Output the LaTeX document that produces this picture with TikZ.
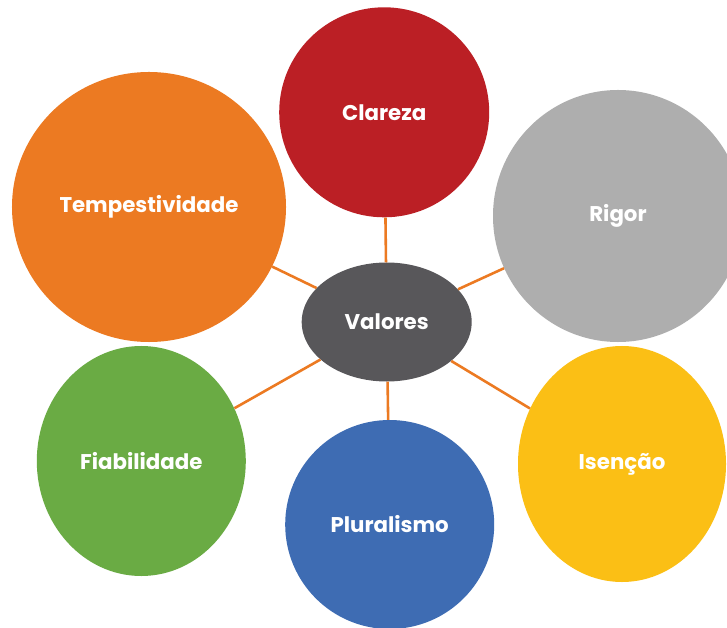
\documentclass[tikz,border=0pt]{standalone}
\usepackage{fontspec}
\setmainfont{Poppins}
\usepackage{xcolor}
\usepackage{tikz}
\usetikzlibrary{shapes.geometric}

\definecolor{cRed}{HTML}{BB1F25}
\definecolor{cGrey}{HTML}{AEAEAE}
\definecolor{cOrange}{HTML}{EC7A22}
\definecolor{cGreen}{HTML}{6AAB44}
\definecolor{cBlue}{HTML}{3E6CB3}
\definecolor{cYellow}{HTML}{FBBF15}
\definecolor{cDark}{HTML}{58575A}

\tikzset{
  bubble/.style={ellipse, inner sep=0pt, text=white, font=\fontsize{18.2}{21}\selectfont\bfseries},
  link/.style={draw=cOrange, line width=2.2pt}
}

\begin{document}
\begin{tikzpicture}[x=0.03cm, y=-0.03cm]
            \clip (0,0) rectangle (727,628);
            \fill[white] (0,0) rectangle (727,628);
            \node[bubble, fill=cDark, minimum width=5.1cm, minimum height=3.57cm] at (386.7,322) (valores) {Valores};
            \node[bubble, fill=cRed, minimum width=6.3cm, minimum height=6.3cm] at (384.2,112.3) (clareza) {Clareza};
            \node[bubble, fill=cGrey, minimum width=7.5cm, minimum height=7.56cm] at (618,216) (rigor) {Rigor};
            \node[bubble, fill=cOrange, minimum width=8.22cm, minimum height=8.1cm] at (149,207) (tempestividade) {Tempestividade};
            \node[bubble, fill=cGreen, minimum width=6.27cm, minimum height=6.9cm] at (141.3,461) (fiabilidade) {Fiabilidade};
            \node[bubble, fill=cBlue, minimum width=6.27cm, minimum height=6.27cm] at (389.7,524.5) (pluralismo) {Pluralismo};
            \node[bubble, fill=cYellow, minimum width=6.24cm, minimum height=7.08cm] at (622,464) (isencao) {Isenção};
            \draw[link] (valores) -- (clareza);
            \draw[link] (valores) -- (rigor);
            \draw[link] (valores) -- (tempestividade);
            \draw[link] (valores) -- (fiabilidade);
            \draw[link] (valores) -- (pluralismo);
            \draw[link] (valores) -- (isencao);
        \end{tikzpicture}
\end{document}
